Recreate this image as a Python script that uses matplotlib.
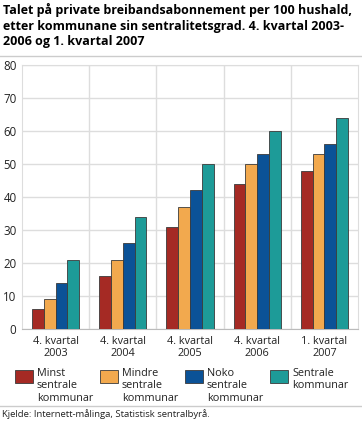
import numpy as np
import matplotlib.pyplot as plt
from matplotlib.patches import Rectangle
from matplotlib.lines import Line2D

periods = ['4. kvartal\n2003', '4. kvartal\n2004', '4. kvartal\n2005',
           '4. kvartal\n2006', '1. kvartal\n2007']
series = ['Minst\nsentrale\nkommunar', 'Mindre\nsentrale\nkommunar',
          'Noko\nsentrale\nkommunar', 'Sentrale\nkommunar']
minst = [6, 16, 31, 44, 48]
mindre = [9, 21, 37, 50, 53]
noko = [14, 26, 42, 53, 56]
sentrale = [21, 34, 50, 60, 64]
colors = ['#a52a24', '#f2a94e', '#0b5297', '#1d9b98']

plt.rcParams['font.family'] = ['Open Sans', 'DejaVu Sans']
W, H = 362, 424
fig = plt.figure(figsize=(W / 100, H / 100), dpi=100)

def px(x, y, w, h):
    return [x / W, 1 - (y + h) / H, w / W, h / H]

fig.text(3 / W, 1 - 3 / H,
         'Talet på private breibandsabonnement per 100 hushald,\n'
         'etter kommunane sin sentralitetsgrad. 4. kvartal 2003-\n'
         '2006 og 1. kvartal 2007',
         ha='left', va='top', fontsize=9.0, fontweight='bold', linespacing=1.27)
fig.add_artist(Line2D([0, 1], [1 - 56 / H] * 2, color='#cccccc', lw=1))

txt = '#222222'
ax = fig.add_axes(px(22, 65, 336, 264))
x = np.arange(len(periods))
bw = 0.175
for i, (vals, c) in enumerate(zip([minst, mindre, noko, sentrale], colors)):
    ax.bar(x + (i - 1.5) * bw, vals, bw, color=c, edgecolor='#3a3a3a', lw=0.6, zorder=3)

ax.set_xlim(-0.5, len(periods) - 0.5)
ax.set_ylim(0, 80)
ax.set_yticks(range(0, 81, 10))
ax.set_xticks(x)
ax.set_xticklabels(periods, fontsize=7.8, linespacing=1.15, color=txt)
ax.tick_params(axis='y', labelsize=8.3, length=0, pad=4, labelcolor=txt)
ax.tick_params(axis='x', length=0, pad=5)
ax.grid(axis='y', color='#dddddd', lw=1, zorder=0)
for b in np.arange(0.5, len(periods) - 0.5):
    ax.axvline(b, color='#dddddd', lw=1, zorder=0)
for s in ax.spines.values():
    s.set_color('#dddddd')
ax.spines['bottom'].set_color('#bbbbbb')

for i, (lab, c) in enumerate(zip(series, colors)):
    x0 = 15 + i * 85
    fig.add_artist(Rectangle((x0 / W, 1 - 383 / H), 18 / W, 13 / H,
                             facecolor=c, edgecolor='#3a3a3a', lw=0.6))
    fig.text((x0 + 22) / W, 1 - 368 / H, lab, ha='left', va='top',
             fontsize=7.8, linespacing=1.18, color=txt)

fig.add_artist(Line2D([0, 1], [1 - 406 / H] * 2, color='#cccccc', lw=1))
fig.text(2 / W, 1 - 409 / H, 'Kjelde: Internett-målinga, Statistisk sentralbyrå.',
         ha='left', va='top', fontsize=6.8, color=txt)

fig.savefig('out.png', dpi=100)
